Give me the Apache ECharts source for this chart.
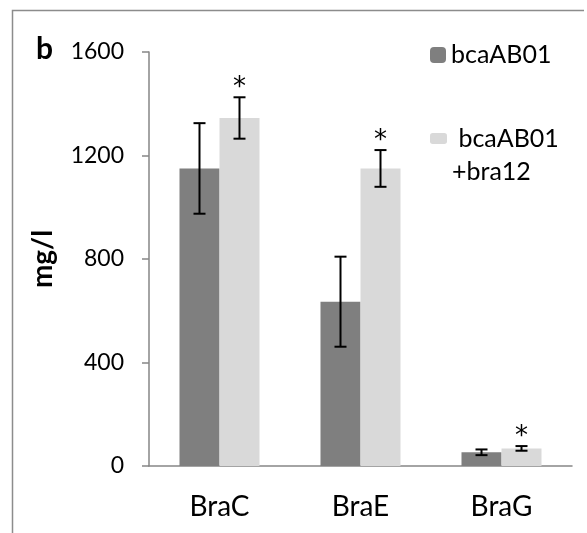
<!DOCTYPE html>
<html lang="en">
<head>
    <meta charset="UTF-8">
    <title>mg/l</title>
    <script src="https://cdn.jsdelivr.net/npm/echarts@6/dist/echarts.min.js"></script>
    <style>
        body { margin: 0; background: #fff; }
        #main { width: 587px; height: 533px; }
    </style>
</head>
<body>
<div id="main"></div>
<script>
    // data
    var categories = ['BraC', 'BraE', 'BraG'];
    var seriesNames = ['bcaAB01', 'bcaAB01 +bra12'];
    var mean1 = [1150, 635, 53];
    var err1 = [175, 174, 11];
    var mean2 = [1345, 1150, 68];
    var err2 = [80, 71, 9];
    var signif2 = [1, 1, 1];   // asterisks over the second series
    var yTicks = [0, 400, 800, 1200, 1600];

    var font = 'Lato, "Open Sans", sans-serif';
    var barW = 40;

    // error bar rows: [category, low, high, side(-1 / +1), star]
    var errData = [];
    for (let i = 0; i < categories.length; i++) {
        errData.push([i, mean1[i] - err1[i], mean1[i] + err1[i], -1, 0]);
        errData.push([i, mean2[i] - err2[i], mean2[i] + err2[i], 1, signif2[i]]);
    }

    var chart = echarts.init(document.getElementById('main'));
    var option = {
        animation: false,
        title: {
            text: 'b',
            left: 36,
            top: 34,
            padding: 0,
            textStyle: { fontFamily: font, fontSize: 30, fontWeight: 'bold', color: '#000' }
        },
        graphic: [{
            type: 'polyline',
            shape: { points: [[12.5, 540], [12.5, 10.5], [584, 10.5]] },
            style: { stroke: '#8c8c8c', lineWidth: 1.5, fill: null }
        }],
        legend: [
            {
                data: [seriesNames[0]],
                left: 430,
                top: 40,
                padding: 0,
                itemWidth: 16,
                itemHeight: 16,
                itemGap: 0,
                textGap: 9,
                textStyle: { fontFamily: font, fontSize: 25, color: '#000', lineHeight: 30 }
            },
            {
                data: [seriesNames[1]],
                left: 430,
                top: 89,
                padding: 0,
                itemWidth: 17,
                itemHeight: 11,
                itemGap: 0,
                textGap: 9,
                // leading blank line keeps the key level with the first text line
                formatter: function () { return '\n bcaAB01\n+bra12'; },
                textStyle: { fontFamily: font, fontSize: 25, color: '#000', lineHeight: 33 }
            }
        ],
        grid: { left: 149, right: 15, top: 52, bottom: 67 },
        xAxis: {
            type: 'category',
            data: categories,
            axisLine: { lineStyle: { color: '#868686', width: 1.5 } },
            axisTick: { length: 8, lineStyle: { color: '#868686', width: 1.5 } },
            axisLabel: { margin: 27, fontFamily: font, fontSize: 28, color: '#000' }
        },
        yAxis: {
            type: 'value',
            min: 0,
            max: 1600,
            interval: 400,
            name: 'mg/l',
            nameLocation: 'middle',
            nameRotate: 90,
            nameGap: 92,
            nameTextStyle: { fontFamily: font, fontSize: 28, fontWeight: 'bold', color: '#000' },
            splitLine: { show: false },
            axisLine: { show: true, lineStyle: { color: '#868686', width: 1.5 } },
            axisTick: { show: true, length: 7, lineStyle: { color: '#868686', width: 1.5 } },
            axisLabel: {
                margin: 25, fontFamily: font, fontSize: 23, color: '#000',
                formatter: function (v) { return yTicks.indexOf(v) >= 0 ? String(v) : ''; }
            }
        },
        series: [
            {
                name: seriesNames[0],
                type: 'bar',
                data: mean1,
                barWidth: barW,
                barGap: 0,
                itemStyle: { color: '#7f7f7f' }
            },
            {
                name: seriesNames[1],
                type: 'bar',
                data: mean2,
                barWidth: barW,
                barGap: 0,
                itemStyle: { color: '#d9d9d9' }
            },
            {
                type: 'custom',
                data: errData,
                z: 10,
                renderItem: function (params, api) {
                    var off = api.value(3) * barW / 2;
                    var hi = api.coord([api.value(0), api.value(2)]);
                    var lo = api.coord([api.value(0), api.value(1)]);
                    var x = hi[0] + off;
                    var cap = 6;
                    var st = { stroke: '#000', lineWidth: 2 };
                    var kids = [
                        { type: 'line', shape: { x1: x, y1: hi[1], x2: x, y2: lo[1] }, style: st },
                        { type: 'line', shape: { x1: x - cap, y1: hi[1], x2: x + cap, y2: hi[1] }, style: st },
                        { type: 'line', shape: { x1: x - cap, y1: lo[1], x2: x + cap, y2: lo[1] }, style: st }
                    ];
                    if (api.value(4)) {
                        kids.push({
                            type: 'text',
                            style: {
                                x: x, y: hi[1] - 9, text: '*',
                                fontFamily: '"DejaVu Sans", sans-serif', fontSize: 26, fill: '#000',
                                align: 'center', verticalAlign: 'middle'
                            }
                        });
                    }
                    return { type: 'group', children: kids };
                }
            }
        ]
    };
    chart.setOption(option);
</script>
</body>
</html>
